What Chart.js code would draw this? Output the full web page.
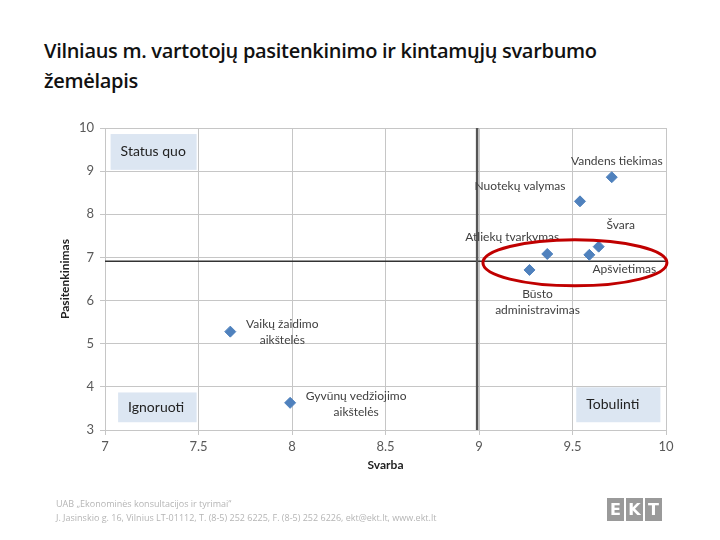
<!DOCTYPE html>
<html>
<head>
<meta charset="utf-8">
<script src="https://cdn.jsdelivr.net/npm/chart.js@4"></script>
<style>
  body { margin: 0; width: 720px; height: 540px; background: #fff; position: relative; overflow: hidden; font-family: "Open Sans", sans-serif; }
  #titulas { position: absolute; left: 44px; top: 36px; font-size: 20px; font-weight: 600; line-height: 30px; color: #111; letter-spacing: -0.3px; }
  #grafika { position: absolute; left: 0; top: 0; }
  #pora { position: absolute; left: 56px; top: 497px; font-size: 9px; line-height: 14px; color: #b5b5b5; font-family: "Open Sans", sans-serif; }
  #logo { position: absolute; left: 607px; top: 498px; display: flex; gap: 2px; }
  #logo span { width: 17px; height: 23px; background: #9a9a9a; color: #fff; font: bold 16px "DejaVu Sans", sans-serif; text-align: center; line-height: 23px; }
</style>
</head>
<body>
<div id="titulas">Vilniaus m. vartotojų pasitenkinimo ir kintamųjų svarbumo<br>žemėlapis</div>
<canvas id="grafika" width="720" height="540"></canvas>
<div id="pora">UAB „Ekonominės konsultacijos ir tyrimai“<br>J. Jasinskio g. 16, Vilnius LT-01112, T. (8-5) 252 6225, F. (8-5) 252 6226, ekt@ekt.lt, www.ekt.lt</div>
<div id="logo"><span>E</span><span>K</span><span>T</span></div>
<script>
//------------------------DUOMENYS---------------------------
const kintamieji = [
    ['Vandens tiekimas'],
    ['Nuotekų valymas'],
    ['Švara'],
    ['Apšvietimas'],
    ['Atliekų tvarkymas'],
    ['Būsto', 'administravimas'],
    ['Vaikų žaidimo', 'aikštelės'],
    ['Gyvūnų vedžiojimo', 'aikštelės']
];
const svarba = [9.71, 9.54, 9.64, 9.59, 9.365, 9.27, 7.67, 7.99];
const pasitenkinimas = [8.86, 8.30, 7.25, 7.06, 7.08, 6.71, 5.28, 3.63];
const vidSvarba = 8.99;
const vidPasitenkinimas = 6.91;
const xTicks = [7, 7.5, 8, 8.5, 9, 9.5, 10];
const yTicks = [3, 4, 5, 6, 7, 8, 9, 10];
const kvadrantai = ['Status quo', 'Ignoruoti', 'Tobulinti'];

//------------------------IŠDĖSTYMAS (ne duomenys)---------------------------
// etikečių poslinkiai nuo taško, px
const etikPoslinkis = [[5, -16], [-60, -15], [22, -22], [35, 14], [-35, -17], [8, 24], [52, -8], [66, -7]];
// kvadrantų dėžučių kraštai duomenų vienetais [x1, x2, y1, y2]
const dezes = [[7.03, 7.49, 9.86, 9.03], [7.07, 7.49, 3.87, 3.18], [9.52, 9.97, 3.99, 3.18]];
// raudona elipsė duomenų vienetais [cx, cy, rx, ry]
const elipse = [9.513, 6.875, 0.492, 0.534];

const sriftas = 'Lato, "Open Sans", sans-serif';

const piesiniai = {
    id: 'piesiniai',
    beforeDatasetsDraw(chart) {
        const { ctx, scales: { x, y } } = chart;
        ctx.save();
        dezes.forEach((d, i) => {
            const x1 = x.getPixelForValue(d[0]), x2 = x.getPixelForValue(d[1]);
            const y1 = y.getPixelForValue(d[2]), y2 = y.getPixelForValue(d[3]);
            ctx.fillStyle = '#dce6f2';
            ctx.fillRect(x1, y1, x2 - x1, y2 - y1);
            ctx.fillStyle = '#222';
            ctx.font = '14px ' + sriftas;
            ctx.textAlign = 'left';
            ctx.textBaseline = 'middle';
            ctx.fillText(kvadrantai[i], x1 + 10, (y1 + y2) / 2);
        });
        ctx.restore();
    },
    afterDatasetsDraw(chart) {
        const { ctx, scales: { x, y } } = chart;
        const meta = chart.getDatasetMeta(0);
        ctx.save();
        ctx.font = '12px ' + sriftas;
        ctx.fillStyle = '#404040';
        ctx.textAlign = 'center';
        ctx.textBaseline = 'middle';
        meta.data.forEach((pt, i) => {
            const [dx, dy] = etikPoslinkis[i];
            kintamieji[i].forEach((eil, j) => {
                ctx.fillText(eil, pt.x + dx, pt.y + dy + j * 16);
            });
        });
        // raudona elipse
        const cx = x.getPixelForValue(elipse[0]), cy = y.getPixelForValue(elipse[1]);
        const rx = x.getPixelForValue(elipse[0] + elipse[2]) - cx;
        const ry = cy - y.getPixelForValue(elipse[1] + elipse[3]);
        ctx.beginPath();
        ctx.ellipse(cx, cy, rx, ry, 0, 0, Math.PI * 2);
        ctx.strokeStyle = '#c00000';
        ctx.lineWidth = 3;
        ctx.stroke();
        ctx.restore();
    }
};

let ctx1 = document.getElementById('grafika').getContext('2d');
let chart1 = new Chart(ctx1, {
    type: 'scatter',
    data: {
        datasets: [{
            data: svarba.map((v, i) => ({ x: v, y: pasitenkinimas[i] })),
            pointStyle: 'rectRot',
            pointRadius: 5.5,
            backgroundColor: '#4f81bd',
            borderColor: '#4f81bd',
            order: 1
        }, {
            type: 'line',
            data: [{ x: vidSvarba, y: yTicks[0] }, { x: vidSvarba, y: yTicks[yTicks.length - 1] }],
            borderColor: '#555',
            borderWidth: 2.5,
            pointRadius: 0,
            order: 2
        }, {
            type: 'line',
            data: [{ x: xTicks[0], y: vidPasitenkinimas }, { x: xTicks[xTicks.length - 1], y: vidPasitenkinimas }],
            borderColor: '#333',
            borderWidth: 1.5,
            pointRadius: 0,
            order: 2
        }]
    },
    options: {
        responsive: false,
        animation: false,
        layout: { padding: { left: 58, top: 128, right: 54, bottom: 64 } },
        plugins: { legend: { display: false }, tooltip: { enabled: false } },
        scales: {
            x: {
                type: 'linear',
                min: 7, max: 10,
                afterBuildTicks: (ax) => { ax.ticks = xTicks.map(v => ({ value: v })); },
                afterFit: (ax) => { ax.height = 46; },
                grid: { color: '#c6c6c6', tickLength: 5 },
                border: { color: '#c6c6c6' },
                ticks: { color: '#595959', font: { family: sriftas, size: 13 }, padding: 4, callback: (v) => String(v) },
                title: { display: true, text: 'Svarba', color: '#222', font: { family: sriftas, size: 12, weight: 'bold' }, padding: { top: 0 } }
            },
            y: {
                type: 'linear',
                min: 3, max: 10,
                afterBuildTicks: (ax) => { ax.ticks = yTicks.map(v => ({ value: v })); },
                afterFit: (ax) => { ax.width = 47; },
                grid: { color: '#c6c6c6', tickLength: 5 },
                border: { color: '#c6c6c6' },
                ticks: { color: '#595959', font: { family: sriftas, size: 13 }, padding: 6, callback: (v) => String(v) },
                title: { display: true, text: 'Pasitenkinimas', color: '#222', font: { family: sriftas, size: 12, weight: 'bold' }, padding: 0 }
            }
        }
    },
    plugins: [piesiniai]
});
</script>
</body>
</html>
